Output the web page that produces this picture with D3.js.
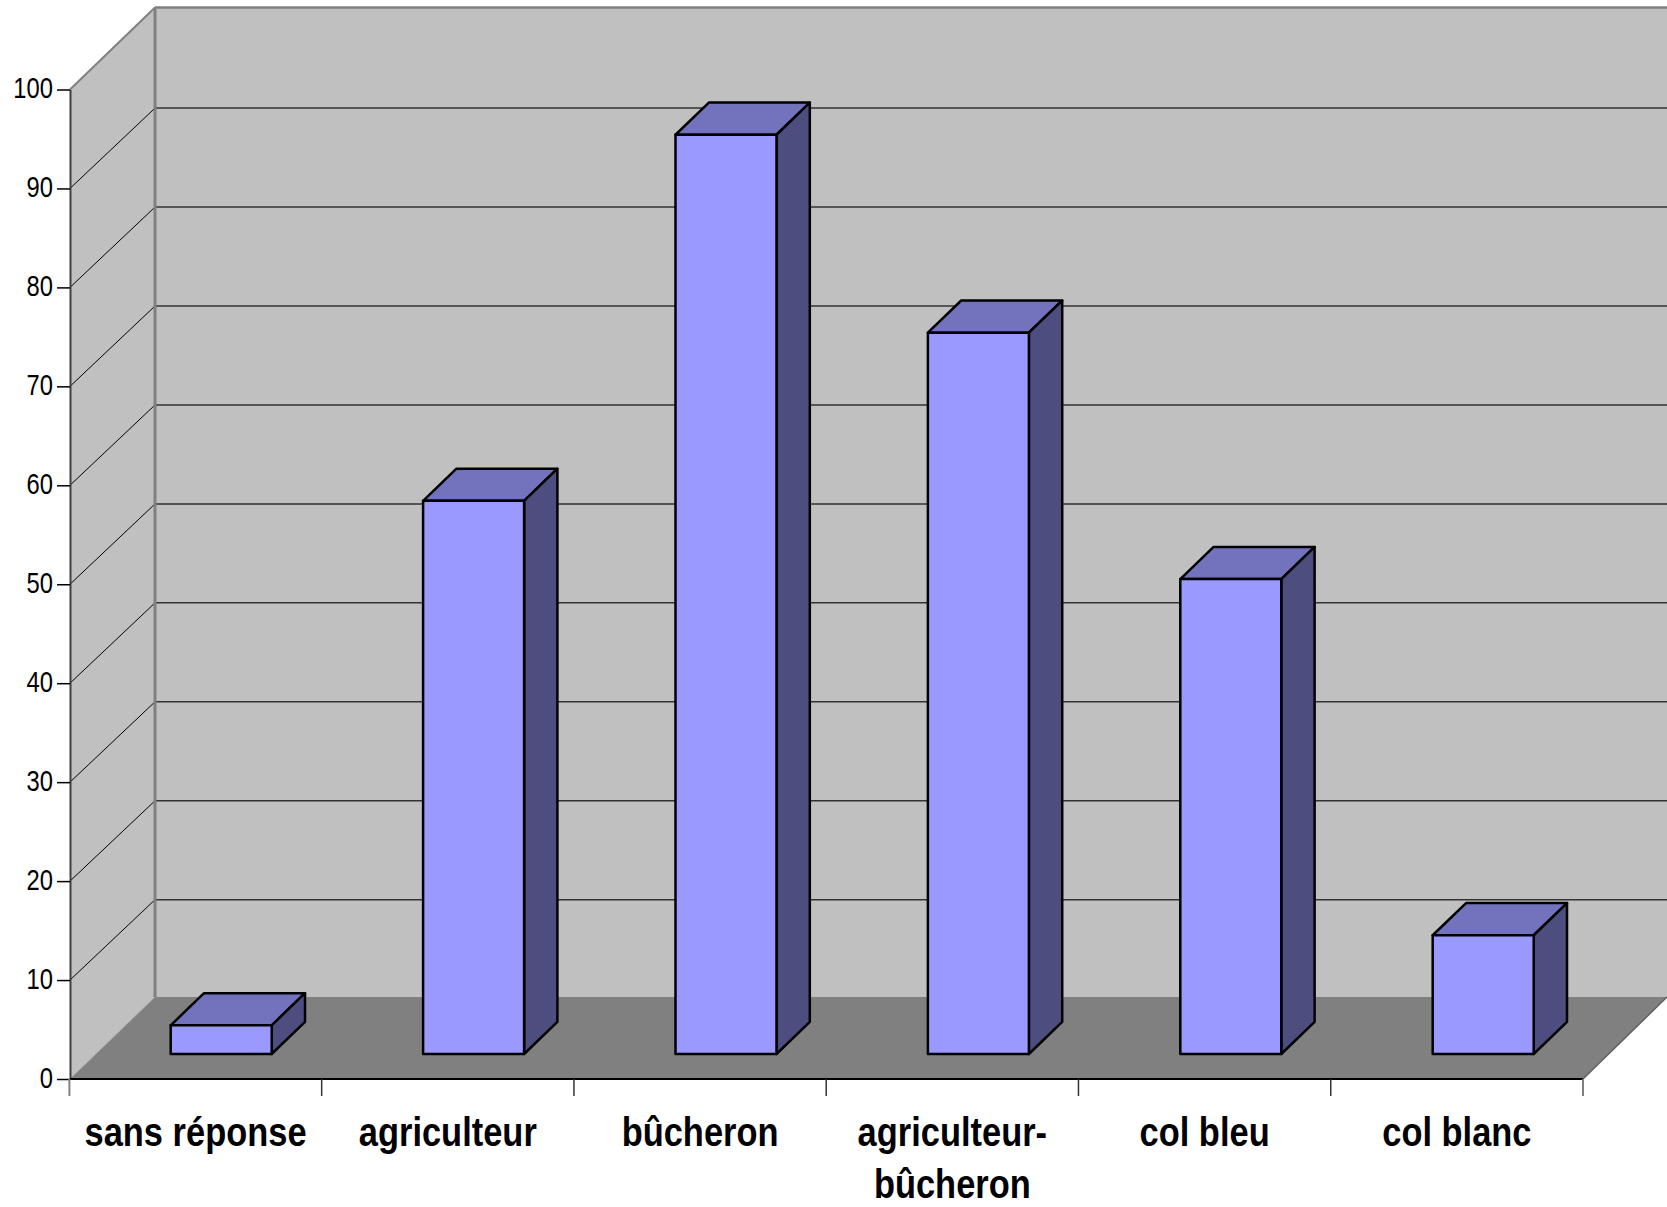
<!DOCTYPE html>
<html><head><meta charset="utf-8">
<script src="https://cdn.jsdelivr.net/npm/d3@7/dist/d3.min.js"></script>
<style>html,body{margin:0;padding:0;background:#fff}svg{display:block}
text{font-family:"Liberation Sans",Arial,sans-serif;fill:#000}</style>
</head><body><svg id="c" width="1667" height="1207"></svg>
<script>
const categories = ["sans réponse","agriculteur","bûcheron","agriculteur-|bûcheron","col bleu","col blanc"];
const values = [2.9,55.9,92.9,72.9,48,12];
const yTicks = [0,10,20,30,40,50,60,70,80,90,100];

const svg = d3.select("#c");
const L = 70, R = 1583, W = 1667;
const x = d3.scaleBand().domain(categories).range([L-0.6,R]);
const barX = d3.scaleBand().domain(categories).range([170.7,170.7+252.4*6]);
const y = d3.scaleLinear().domain([0,100]).range([1079,89.5]);
const depthX = d3.scaleLinear().domain([0,1]).range([0,85]);
const depthY = d3.scaleLinear().domain([0,1]).range([0,-82]);
const gridDepth = 0.98, barFront = 0.305, barBack = 0.697, barWidth = 101;
const line = d3.line();
const pt = (px,v,d)=>[px+depthX(d), y(v)+depthY(d)];
const poly = (pts,fill,stroke,sw)=>svg.append("path").attr("d",line(pts)+"Z").attr("fill",fill)
  .attr("stroke",stroke||"none").attr("stroke-width",sw||0).attr("stroke-linejoin","round");
const seg = (a,b,stroke,sw)=>svg.append("line").attr("x1",a[0]).attr("y1",a[1]).attr("x2",b[0]).attr("y2",b[1])
  .attr("stroke",stroke).attr("stroke-width",sw);

// walls and floor
poly([pt(L,0,1),[W,y(0)+depthY(1)],[W,y(100)+depthY(1)],pt(L,100,1)],"#c0c0c0");
poly([pt(L,0,0),pt(L,0,1),pt(L,100,1),pt(L,100,0)],"#c0c0c0");
poly([pt(L,0,0),pt(R,0,0),[W,y(0)+depthY(1)],pt(L,0,1)],"#808080");
seg(pt(R,0,0),[W,y(0)+depthY(1)],"#606060",1.5);
// gridlines
yTicks.filter(v=>v>0&&v<100).forEach(v=>{
  const back = [L+depthX(1), y(v)+depthY(gridDepth)];
  seg(pt(L,v,0),back,"#000",1);
  seg(back,[W,back[1]],"#333",1.5);
});
// wall borders
seg(pt(L,100,0),pt(L,100,1),"#808080",2);
seg(pt(L,100,1),[W,y(100)+depthY(1)],"#808080",2.5);
seg(pt(L,0,1),pt(L,100,1),"#808080",3);
seg(pt(L,0,0),pt(L,0,1),"#a0a0a0",1);
// bars
categories.forEach((c,i)=>{
  const v = values[i];
  const x0 = barX(c), x1 = x0+barWidth;
  const p = (px,val,d)=>[px+depthX(d-barFront), y(val)+depthY(d)];
  poly([p(x0,v,barFront),p(x1,v,barFront),p(x1,v,barBack),p(x0,v,barBack)],"#7373bd","#000",2.5);
  poly([p(x1,0,barFront),p(x1,0,barBack),p(x1,v,barBack),p(x1,v,barFront)],"#4d4d80","#000",2.5);
  poly([p(x0,0,barFront),p(x1,0,barFront),p(x1,v,barFront),p(x0,v,barFront)],"#9999ff","#000",2.5);
});
// y axis
const gy = svg.append("g").attr("transform",`translate(${L},0)`)
  .call(d3.axisLeft(y).tickValues(yTicks).tickSize(13).tickSizeOuter(0));
gy.select(".domain").attr("stroke","#404040").attr("stroke-width",2);
gy.selectAll(".tick line").attr("stroke","#000").attr("stroke-width",1.5);
gy.selectAll("text").attr("x",0).attr("dy",null).attr("y",8).attr("font-size",29)
  .style("font-family",'"Liberation Sans"').attr("fill","#000")
  .attr("transform","translate(-17,0) scale(0.82,1)");
// x axis
seg([L,y(0)],[R,y(0)],"#000",2);
const edges = categories.map(c=>x(c)).concat([R]);
edges.forEach((e,i)=>{const end=(i==0||i==edges.length-1);seg([e,y(0)],[e,y(0)+17],end?"#808080":"#333",end?2:1.5);});
const gx = svg.append("g").attr("transform",`translate(0,${y(0)})`)
  .call(d3.axisBottom(x).tickSize(0));
gx.select(".domain").remove();
gx.selectAll("text").each(function(c){
  const t = d3.select(this), parts = c.split("|");
  t.text(null).attr("y",null).attr("dy",null).attr("font-size",41).attr("font-weight","bold")
   .style("font-family",'"Liberation Sans"').attr("text-anchor","middle")
   .attr("transform","scale(0.84,1)");
  parts.forEach((s,i)=>t.append("tspan").attr("x",0).attr("y",67+i*52).text(s));
});
</script></body></html>
